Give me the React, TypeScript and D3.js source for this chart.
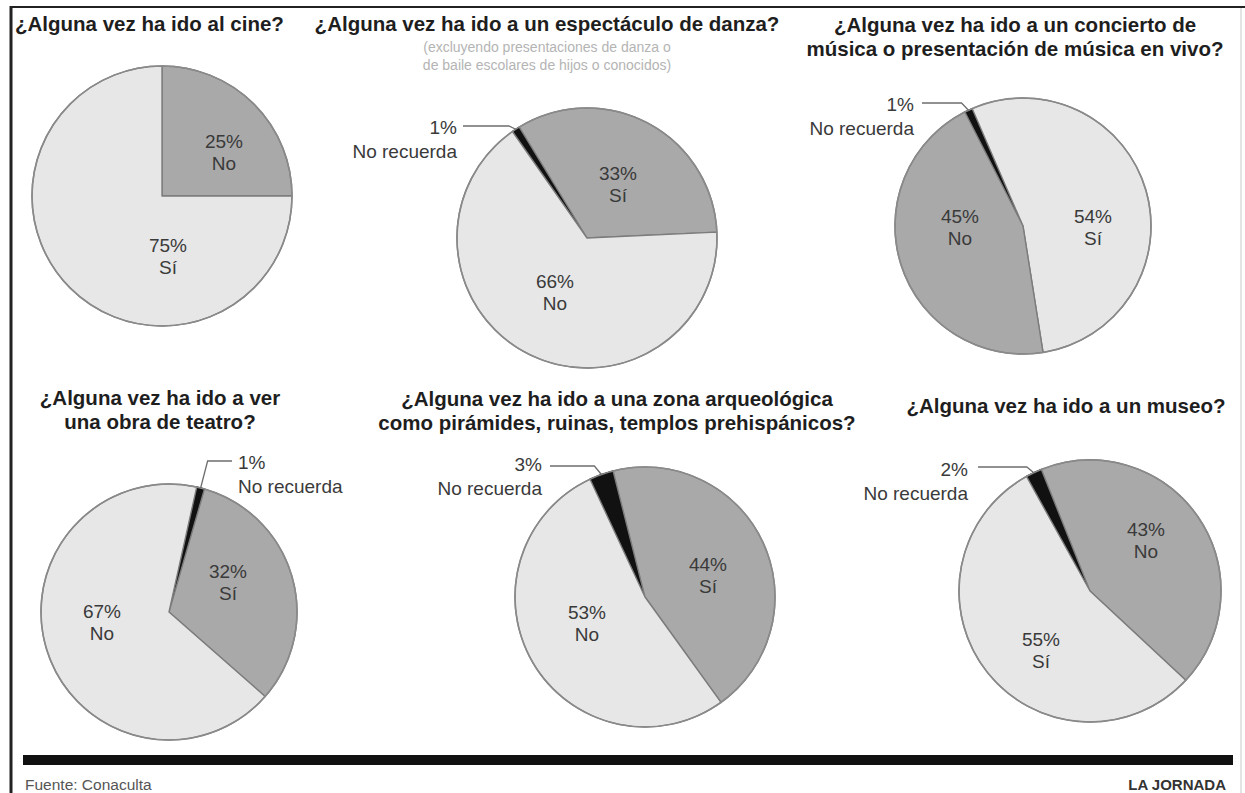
import React, { useEffect, useRef } from "react";
import * as d3 from "d3";

// survey answers, clockwise from each pie's start angle
const catsCine = ["No", "Sí"];
const valsCine = [25, 75];
const catsDanza = ["No recuerda", "Sí", "No"];
const valsDanza = [1, 33, 66];
const catsMusica = ["No recuerda", "Sí", "No"];
const valsMusica = [1, 54, 45];
const catsTeatro = ["No recuerda", "Sí", "No"];
const valsTeatro = [1, 32, 67];
const catsZona = ["No recuerda", "Sí", "No"];
const valsZona = [3, 44, 53];
const catsMuseo = ["No recuerda", "No", "Sí"];
const valsMuseo = [2, 43, 55];

const titleCine = ["¿Alguna vez ha ido al cine?"];
const titleDanza = ["¿Alguna vez ha ido a un espectáculo de danza?"];
const subDanza = ["(excluyendo presentaciones de danza o", "de baile escolares de hijos o conocidos)"];
const titleMusica = ["¿Alguna vez ha ido a un concierto de", "música o presentación de música en vivo?"];
const titleTeatro = ["¿Alguna vez ha ido a ver", "una obra de teatro?"];
const titleZona = ["¿Alguna vez ha ido a una zona arqueológica", "como pirámides, ruinas, templos prehispánicos?"];
const titleMuseo = ["¿Alguna vez ha ido a un museo?"];

const source = "Fuente: Conaculta";
const brand = "LA JORNADA";

const LIGHT = "#e7e7e7";
const DARK = "#a9a9a9";
const BLACK = "#111";

const charts = [
  { cats: catsCine, vals: valsCine, title: titleCine, sub: [] as string[] },
  { cats: catsDanza, vals: valsDanza, title: titleDanza, sub: subDanza },
  { cats: catsMusica, vals: valsMusica, title: titleMusica, sub: [] as string[] },
  { cats: catsTeatro, vals: valsTeatro, title: titleTeatro, sub: [] as string[] },
  { cats: catsZona, vals: valsZona, title: titleZona, sub: [] as string[] },
  { cats: catsMuseo, vals: valsMuseo, title: titleMuseo, sub: [] as string[] },
];

// placement of each pie and its texts
const layout = [
  { cx: 162, cy: 196, r: 130, start: 0, fills: [DARK, LIGHT], tx: 15, anchor: "start", ty: 31, sy: 0,
    offs: [[62, -48], [6, 56]], call: null },
  { cx: 587, cy: 238, r: 130, start: -35, fills: [BLACK, DARK, LIGHT], tx: 547, anchor: "middle", ty: 31, sy: 52,
    offs: [null, [31, -58], [-32, 50]], call: { side: "left", x: 457, y: 134, ly: 126, lx: 463 } },
  { cx: 1023, cy: 226, r: 128, start: -27, fills: [BLACK, LIGHT, DARK], tx: 1015, anchor: "middle", ty: 32, sy: 0,
    offs: [null, [70, -3], [-63, -3]], call: { side: "left", x: 914, y: 111, ly: 103, lx: 922 } },
  { cx: 169, cy: 612, r: 128, start: 12.5, fills: [BLACK, DARK, LIGHT], tx: 160, anchor: "middle", ty: 405, sy: 0,
    offs: [null, [59, -34], [-67, 6]], call: { side: "right", x: 238, y: 469, ly: 461, lx: 232 } },
  { cx: 645, cy: 597, r: 130, start: -25, fills: [BLACK, DARK, LIGHT], tx: 617, anchor: "middle", ty: 406, sy: 0,
    offs: [null, [63, -26], [-58, 22]], call: { side: "left", x: 542, y: 471, ly: 466, lx: 550 } },
  { cx: 1090, cy: 591, r: 131, start: -29, fills: [BLACK, DARK, LIGHT], tx: 1066, anchor: "middle", ty: 413, sy: 0,
    offs: [null, [56, -55], [-49, 55]], call: { side: "left", x: 968, y: 476, ly: 467, lx: 978 } },
];

export default function App() {
  const ref = useRef<SVGSVGElement>(null);

  useEffect(() => {
    const svg = d3.select(ref.current);
    svg.selectAll("*").remove();
    const font = "'Liberation Sans', Arial, sans-serif";

    svg.append("rect").attr("width", 1245).attr("height", 793).attr("fill", "#fff");

    // frame
    svg.append("line").attr("x1", 10).attr("x2", 1245).attr("y1", 7).attr("y2", 7)
      .attr("stroke", "#222").attr("stroke-width", 2);
    svg.append("line").attr("x1", 11).attr("x2", 11).attr("y1", 6).attr("y2", 793)
      .attr("stroke", "#222").attr("stroke-width", 3);
    svg.append("line").attr("x1", 1241).attr("x2", 1241).attr("y1", 8).attr("y2", 793)
      .attr("stroke", "#c8c8c8").attr("stroke-width", 1);

    charts.forEach((c, i) => {
      const L = layout[i];
      const g = svg.append("g");

      // title
      const t = g.append("text")
        .attr("x", L.tx).attr("y", L.ty)
        .attr("text-anchor", L.anchor)
        .attr("font-family", font).attr("font-weight", "bold")
        .attr("font-size", 20.5).attr("fill", "#1e1e1e");
      c.title.forEach((line, k) => {
        t.append("tspan").attr("x", L.tx).attr("dy", k === 0 ? 0 : 23.5).text(line);
      });
      c.sub.forEach((line, k) => {
        g.append("text")
          .attr("x", L.tx).attr("y", L.sy + k * 18)
          .attr("text-anchor", "middle")
          .attr("font-family", font).attr("font-size", 14)
          .attr("fill", "#b4b4b4").text(line);
      });

      const a0 = (L.start * Math.PI) / 180;
      const pie = d3.pie<number>().sort(null).value(d => d)
        .startAngle(a0).endAngle(a0 + 2 * Math.PI);
      const arcs = pie(c.vals);
      const arc = d3.arc<d3.PieArcDatum<number>>().innerRadius(0).outerRadius(L.r);

      const pg = g.append("g").attr("transform", `translate(${L.cx},${L.cy})`);
      pg.selectAll("path")
        .data(arcs)
        .join("path")
        .attr("d", arc)
        .attr("fill", (d, j) => L.fills[j])
        .attr("stroke", (d, j) => (L.fills[j] === BLACK ? BLACK : "#7c7c7c"))
        .attr("stroke-width", 1.4)
        .attr("stroke-linejoin", "round");

      pg.append("circle").attr("r", L.r).attr("fill", "none")
        .attr("stroke", "#8a8a8a").attr("stroke-width", 1.6);

      // inside labels
      arcs.forEach((d, j) => {
        const o = L.offs[j];
        if (!o) return;
        const lt = pg.append("text")
          .attr("text-anchor", "middle")
          .attr("font-family", font).attr("font-size", 19)
          .attr("fill", "#3a3a3a");
        lt.append("tspan").attr("x", o[0]).attr("y", o[1]).text(`${c.vals[j]}%`);
        lt.append("tspan").attr("x", o[0]).attr("y", o[1] + 22).text(c.cats[j]);
      });

      // callout for the small slice
      if (L.call) {
        const d = arcs[0];
        const mid = (d.startAngle + d.endAngle) / 2;
        const px = L.cx + L.r * Math.sin(mid);
        const py = L.cy - L.r * Math.cos(mid);
        const dir = L.call.side === "left" ? 1 : -1;
        const ex = px - dir * 7;
        g.append("path")
          .attr("d", `M${L.call.lx},${L.call.ly}H${ex}L${px},${py}`)
          .attr("fill", "none").attr("stroke", "#6e6e6e").attr("stroke-width", 1.3);
        const anchor = L.call.side === "left" ? "end" : "start";
        const ct = g.append("text")
          .attr("text-anchor", anchor)
          .attr("font-family", font).attr("font-size", 19)
          .attr("fill", "#3a3a3a");
        ct.append("tspan").attr("x", L.call.x).attr("y", L.call.y).text(`${c.vals[0]}%`);
        ct.append("tspan").attr("x", L.call.x).attr("y", L.call.y + 24).text(c.cats[0]);
      }
    });

    // footer
    svg.append("rect").attr("x", 23).attr("y", 755).attr("width", 1210).attr("height", 10).attr("fill", "#111");
    svg.append("text").attr("x", 25).attr("y", 790)
      .attr("font-family", font).attr("font-size", 15.5).attr("fill", "#555").text(source);
    svg.append("text").attr("x", 1226).attr("y", 790).attr("text-anchor", "end")
      .attr("font-family", font).attr("font-weight", "bold").attr("font-size", 15)
      .attr("fill", "#333").text(brand);
  }, []);

  return (
    <svg ref={ref} width={1245} height={793}
      style={{ position: "absolute", left: 0, top: 0, display: "block" }} />
  );
}
